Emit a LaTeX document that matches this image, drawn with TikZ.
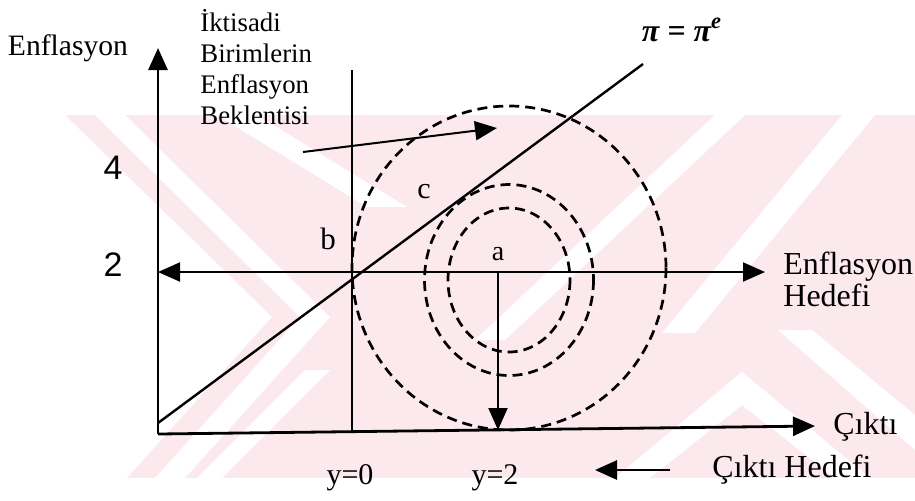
\documentclass[tikz,border=0pt]{standalone}
\usepackage{fontspec}
\setmainfont{Liberation Serif}
\newfontfamily\numfont{Liberation Sans}
\usetikzlibrary{arrows.meta}
\definecolor{wmk}{RGB}{252,233,237}
\tikzset{
  axis/.style={line width=1.4pt, -{Triangle[length=11pt, width=9.5pt]}},
  guide/.style={line width=1pt},
  ring/.style={line width=1.35pt, dash pattern=on 5pt off 3pt},
  tip/.style={-{Triangle[length=11pt, width=9.5pt]}},
  txt/.style={inner sep=0pt, font=\fontsize{15.5}{16}\selectfont},
  num/.style={inner sep=0pt, font=\numfont\fontsize{17}{18}\selectfont}}

\begin{document}
\begin{tikzpicture}[x=0.5pt, y=-0.5pt]
\useasboundingbox (0,0) rectangle (915,500);
% faint watermark behind the chart
\begin{scope}
\clip (65,115) -- (272,317) -- (127,478) -- (915,478) -- (915,115) -- cycle;
\fill[wmk] (0,115) rectangle (915,478);
\fill[white] (95,115) -- (125,115) -- (330,317) -- (185,478) -- (155,478) -- (300,317) -- cycle;
\fill[white] (217,115) -- (257,115) -- (407,207) -- (367,207) -- cycle;
\fill[white] (715,115) -- (745,115) -- (505,340) -- (475,340) -- cycle;
\fill[white] (842,115) -- (875,115) -- (695,333) -- (662,333) -- cycle;
\fill[white] (778,330) -- (812,330) -- (915,415) -- (915,450) -- cycle;
\fill[white] (615,478) -- (742,372) -- (870,478) -- (835,478) -- (742,405) -- (650,478) -- cycle;
\fill[white] (197,478) -- (222,478) -- (330,370) -- (305,370) -- cycle;
\end{scope}
% points of the chart
\coordinate (O) at (158,434);
\coordinate (ytop) at (158,48);
\coordinate (xend) at (815,426);
\coordinate (v0b) at (352,432);
\coordinate (v0t) at (352,70);
\coordinate (hl) at (158,272);
\coordinate (hr) at (765,272);
\coordinate (ps) at (158,423);
\coordinate (pe) at (643,64);
\coordinate (bs) at (303,152);
\coordinate (be) at (497,128);
\coordinate (as) at (498,272);
\coordinate (ae) at (498,430);
\coordinate (cs) at (670,470);
\coordinate (ce) at (595,470);
\coordinate (ctr) at (509,268);
\coordinate (ctr2) at (509,280);
% labels
\node[txt, font=\fontsize{14.8}{16}\selectfont] (enf) at (68,48) {Enflasyon};
\node[txt, anchor=north west, align=left, font=\fontsize{13.4}{15.5}\selectfont] (bek) at (200,9) {İktisadi\\Birimlerin\\Enflasyon\\Beklentisi};
\node[txt, font=\fontsize{16}{18}\bfseries\itshape] (pieq) at (682,30) {π = π\textsuperscript{e}};
\node[num] (four) at (113,168) {4};
\node[num] (two) at (113,265) {2};
\node[txt] (lb) at (328,239) {b};
\node[txt, font=\fontsize{15}{16}\selectfont] (lc) at (424,192) {c};
\node[txt, font=\fontsize{14}{16}\selectfont] (la) at (498,254) {a};
\node[txt, anchor=north west, align=left, font=\fontsize{16}{16}\selectfont] (hed) at (783,252) {Enflasyon\\Hedefi};
\node[txt, anchor=west, font=\fontsize{16}{18}\selectfont] (cikti) at (833,427) {Çıktı};
\node[txt, anchor=west, font=\fontsize{16}{18}\selectfont] (ched) at (712,470) {Çıktı Hedefi};
\node[txt, font=\fontsize{15}{18}\selectfont] (y0) at (350,478) {y=0};
\node[txt, font=\fontsize{15}{18}\selectfont] (y2) at (495,478) {y=2};
% axes and lines
\draw[axis] (O) -- (ytop);
\draw[axis] (O) -- (xend);
\draw[guide] (v0b) -- (v0t);
\draw[guide, line width=1.2pt] (ps) -- (pe);
\draw[guide, {Triangle[length=11pt, width=9.5pt]}-{Triangle[length=11pt, width=9.5pt]}] (hl) -- (hr);
\draw[guide, tip] (bs) -- (be);
\draw[guide, tip] (as) -- (ae);
\draw[guide, line width=1.4pt, tip] (cs) -- (ce);
% loss circles
\draw[ring] (ctr) ellipse [x radius=157, y radius=162];
\draw[ring] (ctr2) ellipse [x radius=84.5, y radius=95.5];
\draw[ring] (ctr2) ellipse [x radius=61, y radius=72];
\end{tikzpicture}
\end{document}
